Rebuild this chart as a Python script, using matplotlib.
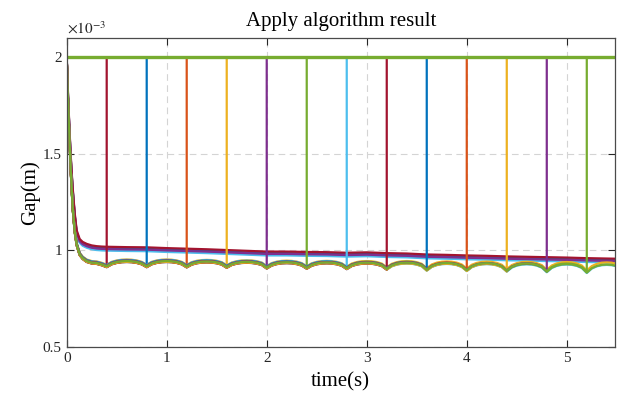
import matplotlib
matplotlib.use('Agg')
import matplotlib.pyplot as plt
import numpy as np

plt.rcParams['font.family'] = ['Liberation Serif', 'DejaVu Serif']
plt.rcParams['mathtext.fontset'] = 'stix'

# MATLAB default colour order
BLUE, ORANGE, YELLOW = '#0072BD', '#D95319', '#EDB120'
PURPLE, GREEN, CYAN, RED = '#7E2F8E', '#77AC30', '#4DBEEE', '#A2142F'

# start-up transient, gap in units of 1e-3 m
t_start = [0, 0.01, 0.02, 0.03, 0.04, 0.05, 0.06, 0.08, 0.10, 0.13, 0.16, 0.20, 0.25, 0.30, 0.35]
upper_start = [2.0, 1.85, 1.72, 1.60, 1.49, 1.40, 1.32, 1.19, 1.10, 1.055, 1.04, 1.03, 1.022, 1.018, 1.016]
lower_start = [2.0, 1.82, 1.68, 1.55, 1.42, 1.32, 1.22, 1.10, 1.03, 0.98, 0.96, 0.945, 0.937, 0.935, 0.928]

# upper band after the transient
t_upper = [0.4, 0.6, 0.8, 1.0, 1.2, 1.4, 1.6, 1.8, 2.0, 2.2, 2.4, 2.6, 2.8, 3.0,
           3.2, 3.4, 3.6, 3.8, 4.0, 4.2, 4.4, 4.6, 4.8, 5.0, 5.2, 5.4, 5.5]
upper_band = [1.015, 1.013, 1.012, 1.008, 1.005, 1.002, 0.998, 0.994, 0.990, 0.990,
              0.988, 0.987, 0.984, 0.986, 0.982, 0.980, 0.975, 0.973, 0.970, 0.968,
              0.965, 0.963, 0.961, 0.959, 0.956, 0.954, 0.953]

# lower band: cusp at every jump, arc in between (one 0.4 s period per entry)
period_start = [0.4, 0.8, 1.2, 1.6, 2.0, 2.4, 2.8, 3.2, 3.6, 4.0, 4.4, 4.8, 5.2]
lower_dip = [0.918, 0.918, 0.917, 0.915, 0.911, 0.910, 0.908, 0.905, 0.900, 0.898, 0.895, 0.892, 0.888]
lower_peak = [0.945, 0.945, 0.943, 0.941, 0.939, 0.938, 0.937, 0.937, 0.935, 0.934, 0.933, 0.932, 0.930]
scallop = [0, 0.55, 0.82, 0.96, 1.0, 0.96, 0.82, 0.55]  # shape at 0.05 s steps

# vehicles leaving: time the gap jumps back to 2e-3
jump_times = [0.4, 0.8, 1.2, 1.6, 2.0, 2.4, 2.8, 3.2, 3.6, 4.0, 4.4, 4.8, 5.2]
jump_colors = [RED, BLUE, ORANGE, YELLOW, PURPLE, GREEN, CYAN, RED, BLUE, ORANGE, YELLOW, PURPLE, GREEN]
jump_offsets = [0.003, -0.003, 0.005, -0.004, 0.001, -0.002, 0.006, -0.005, 0.004, 0.002, -0.004, 0.001, 0.0]

# vehicles staying to the end
stay_bands = ['lower', 'upper', 'upper', 'upper', 'upper', 'upper', 'lower', 'lower']
stay_colors = [CYAN, ORANGE, BLUE, CYAN, PURPLE, RED, YELLOW, GREEN]
stay_offsets = [-0.005, -0.012, -0.004, -0.016, -0.008, 0.004, 0.008, -0.003]

T_END = 5.5


def band(which):
    if which == 'upper':
        return list(t_start) + t_upper, list(upper_start) + upper_band
    t, v = list(t_start), list(lower_start)
    for k, t0 in enumerate(period_start):
        for j, s in enumerate(scallop):
            tj = round(t0 + 0.05 * j, 3)
            if tj > T_END:
                break
            t.append(tj)
            v.append(lower_dip[k] + (lower_peak[k] - lower_dip[k]) * s)
    return t, v


def series(which, offset, jump=None):
    t, v = band(which)
    t, v = np.array(t), np.array(v)
    v[1:] += offset
    if jump is None:
        return t, v
    keep = t <= jump + 1e-9
    t = np.append(t[keep], [jump, T_END])
    v = np.append(v[keep], [2.0, 2.0])
    return t, v


fig = plt.figure(figsize=(6.21, 4.03), dpi=100)
ax = fig.add_axes([0.1074, 0.139, 0.8826, 0.7667])

lw = 1.6
for b, c, o in zip(stay_bands, stay_colors, stay_offsets):
    t, v = series(b, o)
    ax.plot(t, v, color=c, lw=lw)
for T, c, o in zip(jump_times, jump_colors, jump_offsets):
    t, v = series('lower', o, T)
    ax.plot(t, v, color=c, lw=lw)
ax.plot([0, T_END], [2.0, 2.0], color=GREEN, lw=2.4)

ax.set_xlim(0, 5.48)
ax.set_ylim(0.5, 2.1)
ax.set_xticks([0, 1, 2, 3, 4, 5])
ax.set_yticks([0.5, 1, 1.5, 2])
ax.set_yticklabels(['0.5', '1', '1.5', '2'])
ax.grid(True, ls=(0, (6, 4)), color='#d4d4d4', lw=0.8)
ax.tick_params(direction='in', top=True, right=True, length=5, width=0.8,
               labelsize=11, colors='#262626')
for s in ax.spines.values():
    s.set_color('#4a4a4a')
    s.set_linewidth(0.9)

ax.set_title('Apply algorithm result', fontsize=15, pad=9)
ax.set_xlabel('time(s)', fontsize=15, labelpad=5)
ax.set_ylabel('Gap(m)', fontsize=15, labelpad=2)
ax.text(0.0, 1.005, r'$\times10^{-3}$', transform=ax.transAxes, fontsize=11,
        va='bottom', ha='left', color='#262626')

plt.savefig('out.png', dpi=100)
